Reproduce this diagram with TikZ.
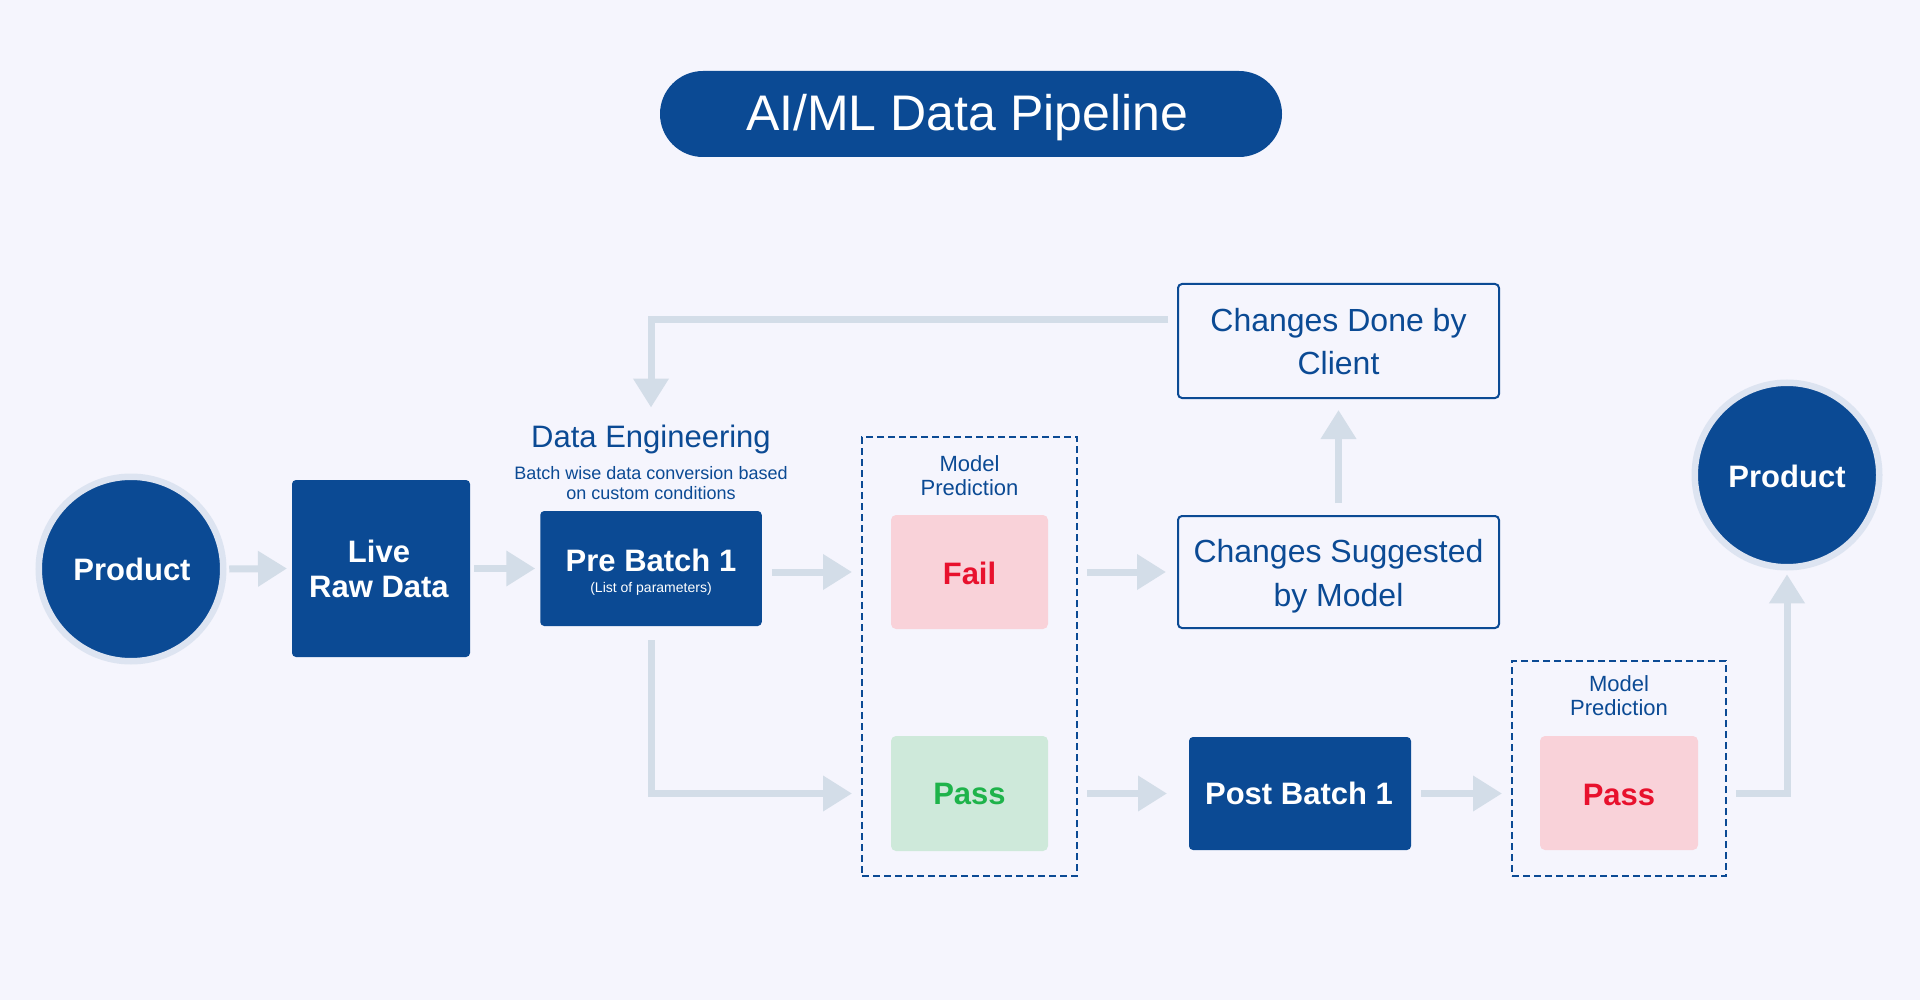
\documentclass[tikz,border=0pt]{standalone}
\usepackage{fontspec}
\setmainfont{Liberation Sans}
\usetikzlibrary{arrows.meta}
\definecolor{bg}{HTML}{F5F5FD}
\definecolor{dblue}{HTML}{0B4A94}
\definecolor{arrowc}{HTML}{D3DDE8}
\definecolor{ringc}{HTML}{DDE4F1}
\definecolor{failfill}{HTML}{F9D2D9}
\definecolor{redt}{HTML}{E8112D}
\definecolor{passfill}{HTML}{CEE9DA}
\definecolor{greent}{HTML}{1EB34A}
\begin{document}
\begin{tikzpicture}[x=1pt,y=-1pt,
  every node/.style={inner sep=0pt, outer sep=0pt},
  prodcirc/.style={circle, fill=dblue, draw=ringc, line width=6.5pt, minimum size=184.5pt},
  bluebox/.style={rectangle, fill=dblue, rounded corners=4pt},
  outbox/.style={rectangle, draw=dblue, line width=2pt, rounded corners=4pt},
  failbox/.style={rectangle, fill=failfill, rounded corners=5pt},
  passbox/.style={rectangle, fill=passfill, rounded corners=5pt},
  dashbox/.style={rectangle, draw=dblue, line width=2pt, dash pattern=on 7pt off 4pt},
  txt/.style={anchor=base, align=center},
  wtxt/.style={txt, text=white, font=\fontsize{31}{37}\selectfont\bfseries},
  btxt/.style={txt, text=dblue},
  arr/.style={draw=arrowc, line width=7pt, -{Triangle[length=29pt,width=34pt]}}
]
\useasboundingbox (0,0) rectangle (1920,1000);
\fill[bg] (0,0) rectangle (1920,1000);

% title
\node[rectangle, fill=dblue, rounded corners=43pt, minimum width=622pt, minimum height=86pt] (title) at (971,114) {};
\node[txt, text=white, font=\fontsize{50}{58}\selectfont] (titlet) at (967,131) {AI/ML Data Pipeline};

% product left
\node[prodcirc] (prodL) at (131,569) {};
\node[wtxt] (prodLt) at (132,580) {Product};

% live raw data
\node[bluebox, minimum width=178pt, minimum height=177pt] (live) at (381,568.5) {};
\node[wtxt] (livet1) at (379,562) {Live};
\node[wtxt] (livet2) at (379,597) {Raw Data};

% data engineering
\node[btxt, font=\fontsize{31}{37}\selectfont] (de) at (651,447) {Data Engineering};
\node[btxt, font=\fontsize{18}{20}\selectfont] (de1) at (651,479) {Batch wise data conversion based};
\node[btxt, font=\fontsize{18}{20}\selectfont] (de2) at (651,499) {on custom conditions};

% pre batch
\node[bluebox, minimum width=221.5pt, minimum height=115pt] (pre) at (651,568.5) {};
\node[wtxt] (pret) at (651,571) {Pre Batch 1};
\node[txt, text=white, font=\fontsize{14}{16}\selectfont] (prep) at (651,592) {(List of parameters)};

% model prediction 1
\node[dashbox, minimum width=215pt, minimum height=439pt] (pred1) at (969.5,656.5) {};
\node[btxt, font=\fontsize{22}{24}\selectfont] (pred1a) at (969.5,471) {Model};
\node[btxt, font=\fontsize{22}{24}\selectfont] (pred1b) at (969.5,495) {Prediction};
\node[failbox, minimum width=157pt, minimum height=114pt] (fail) at (969.5,572) {};
\node[txt, text=redt, font=\fontsize{31}{37}\selectfont\bfseries] (failt) at (969.5,584) {Fail};
\node[passbox, minimum width=157pt, minimum height=115pt] (pass) at (969.5,793.5) {};
\node[txt, text=greent, font=\fontsize{31}{37}\selectfont\bfseries] (passt) at (969.5,804) {Pass};

% changes boxes
\node[outbox, minimum width=321pt, minimum height=114pt] (done) at (1338.5,341) {};
\node[btxt, font=\fontsize{32}{43}\selectfont] (done1) at (1338.5,331) {Changes Done by};
\node[btxt, font=\fontsize{32}{43}\selectfont] (done2) at (1338.5,374) {Client};
\node[outbox, minimum width=321pt, minimum height=112pt] (sugg) at (1338.5,572) {};
\node[btxt, font=\fontsize{32}{43}\selectfont] (sugg1) at (1338.5,562) {Changes Suggested};
\node[btxt, font=\fontsize{32}{43}\selectfont] (sugg2) at (1338.5,606) {by Model};

% post batch
\node[bluebox, minimum width=222pt, minimum height=113pt] (post) at (1300,793.5) {};
\node[wtxt] (postt) at (1299,804) {Post Batch 1};

% model prediction 2
\node[dashbox, minimum width=214pt, minimum height=215pt] (pred2) at (1619,768.5) {};
\node[btxt, font=\fontsize{22}{24}\selectfont] (pred2a) at (1619,691) {Model};
\node[btxt, font=\fontsize{22}{24}\selectfont] (pred2b) at (1619,715) {Prediction};
\node[failbox, minimum width=158pt, minimum height=114pt] (passr) at (1619,793) {};
\node[txt, text=redt, font=\fontsize{31}{37}\selectfont\bfseries] (passrt) at (1619,805) {Pass};

% product right
\node[prodcirc] (prodR) at (1787,475) {};
\node[wtxt] (prodRt) at (1787,487) {Product};

% connectors
\draw[arr] ([xshift=6pt]prodL.east) -- ([xshift=-5pt]live.west);
\draw[arr] ([xshift=4pt]live.east) -- ([xshift=-5pt]pre.west);
\draw[arr] ([xshift=10pt]pre.east |- fail.center) -- ([xshift=-10pt]pred1.west |- fail.center);
\draw[arr] ([xshift=10pt]pred1.east |- fail.center) -- ([xshift=-12pt]sugg.west);
\draw[arr] ([yshift=13pt]sugg.north) -- ([yshift=-12pt]done.south);
\draw[arr] ([xshift=-10pt,yshift=21pt]done.west) -| ([yshift=17pt]de.north);
\draw[arr] ([yshift=-14pt]pre.south) |- ([xshift=-10pt]pred1.west |- pass.center);
\draw[arr] ([xshift=10pt]pred1.east |- pass.center) -- ([xshift=-22pt]post.west);
\draw[arr] ([xshift=10pt]post.east) -- ([xshift=-10pt]pred2.west |- post.center);
\draw[arr] ([xshift=10pt]pred2.east |- passr.center) -| ([yshift=-7pt]prodR.south);
\end{tikzpicture}
\end{document}
